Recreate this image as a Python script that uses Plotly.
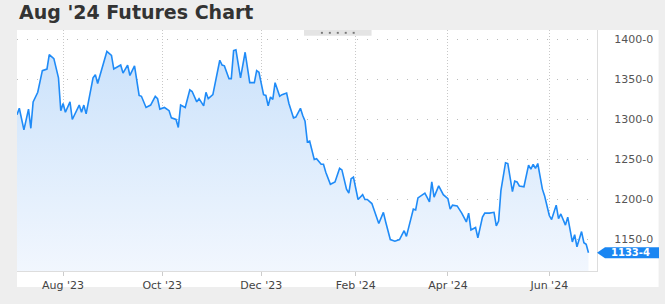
import pandas as pd
import plotly.graph_objects as go

# ---- data ----
# trading-day offset from 2023-07-03 and settlement price (cents/bu)
day_index = [0, 1, 3, 5, 6, 7, 9, 11, 13, 14, 16, 18, 19, 20, 21, 23, 24, 27, 28, 29, 30,
             33, 34, 35, 39, 41, 42, 45, 46, 48, 49, 51, 53, 54, 56, 58, 60, 61, 62, 64,
             66, 67, 69, 70, 71, 73, 75, 76, 78, 79, 81, 82, 83, 85, 88, 89, 90, 92, 93,
             94, 95, 97, 99, 101, 103, 104, 105, 107, 108, 109, 110, 111, 112, 114, 115,
             117, 118, 120, 121, 123, 124, 125, 126, 127, 129, 130, 132, 133, 134, 136,
             138, 140, 141, 143, 144, 145, 146, 148, 150, 151, 152, 154, 157, 159, 160,
             162, 164, 166, 168, 169, 172, 173, 174, 177, 179, 180, 181, 183, 185, 187,
             188, 189, 191, 193, 195, 196, 197, 199, 200, 202, 203, 205, 207, 208, 209,
             210, 212, 213, 215, 216, 217, 218, 220, 222, 223, 224, 225, 226, 227, 228,
             229, 231, 232, 234, 235, 236, 238, 239, 241, 242, 243, 245, 246, 247, 248]
price = [1306, 1314, 1287, 1313, 1289, 1322, 1334, 1361, 1363, 1381, 1376, 1352, 1311, 1320,
         1309, 1322, 1300, 1318, 1309, 1318, 1307, 1352, 1356, 1345, 1385, 1380, 1363, 1368,
         1358, 1368, 1355, 1367, 1330, 1329, 1315, 1318, 1329, 1326, 1313, 1315, 1311, 1302,
         1300, 1290, 1318, 1315, 1337, 1335, 1322, 1326, 1317, 1334, 1326, 1331, 1374, 1368,
         1367, 1351, 1351, 1386, 1387, 1352, 1384, 1346, 1346, 1361, 1359, 1331, 1330, 1317,
         1328, 1325, 1346, 1329, 1331, 1333, 1320, 1302, 1303, 1314, 1305, 1298, 1272, 1273,
         1250, 1251, 1244, 1244, 1234, 1219, 1222, 1239, 1237, 1213, 1208, 1226, 1228, 1200,
         1206, 1200, 1200, 1195, 1170, 1184, 1172, 1150, 1148, 1150, 1161, 1154, 1188, 1187,
         1202, 1208, 1197, 1222, 1203, 1217, 1206, 1201, 1188, 1193, 1192, 1183, 1172, 1183,
         1162, 1165, 1152, 1178, 1183, 1183, 1184, 1167, 1173, 1211, 1246, 1245, 1210, 1223,
         1222, 1217, 1216, 1243, 1238, 1244, 1239, 1245, 1229, 1213, 1204, 1180, 1175, 1193,
         1176, 1182, 1168, 1178, 1147, 1156, 1141, 1160, 1146, 1144, 1133.5]

holidays = ["2023-07-04", "2023-09-04", "2023-11-23", "2023-12-25", "2024-01-01",
            "2024-01-15", "2024-02-19", "2024-03-29", "2024-05-27", "2024-06-19"]

x_tick_dates = ["2023-08-01", "2023-10-02", "2023-12-01", "2024-02-01", "2024-04-01", "2024-06-03"]
x_tick_text = ["Aug '23", "Oct '23", "Dec '23", "Feb '24", "Apr '24", "Jun '24"]
y_tick_vals = [1150, 1200, 1250, 1300, 1350, 1400]
y_tick_text = ["1150-0", "1200-0", "1250-0", "1300-0", "1350-0", "1400-0"]

title_text = "Aug '24 Futures Chart"
last_label = "1133-4"

# ---- trading calendar ----
cal = pd.bdate_range("2023-07-03", "2024-07-05")
cal = cal[~cal.isin(pd.to_datetime(holidays))]
dates = cal[day_index]

LINE = "#1f8bf7"
FONT = "DejaVu Sans"

fig = go.Figure()
fig.add_trace(go.Scatter(
    x=dates, y=price, mode="lines",
    line=dict(color=LINE, width=1.6),
    fill="tozeroy",
    fillgradient=dict(type="vertical",
                      colorscale=[[0, "rgb(244,248,254)"], [1, "rgb(203,226,251)"]],
                      start=1110, stop=1390),
    hoverinfo="skip", showlegend=False,
))

W, H = 665, 304
ml, mr, mt, mb = 17, 64, 30, 19
pw, ph = W - ml - mr, H - mt - mb

def px_x(px):
    return (px - ml) / pw

def px_y(py):
    return (H - mb - py) / ph

shapes = [
    # white chart card
    dict(type="rect", xref="paper", yref="paper", x0=0, x1=px_x(663), y0=px_y(302), y1=1,
         fillcolor="white", line=dict(width=0), layer="below"),
    # drag tab at top
    dict(type="rect", xref="paper", yref="paper", x0=px_x(306), x1=px_x(374), y0=px_y(36), y1=1,
         fillcolor="#e4e4e4", line=dict(width=0), layer="above"),
]
for i in range(5):
    cx = 324 + 8 * i
    shapes.append(dict(type="rect", xref="paper", yref="paper",
                       x0=px_x(cx - 1), x1=px_x(cx + 1), y0=px_y(34), y1=px_y(32),
                       fillcolor="#777777", line=dict(width=0), layer="above"))
# last-price tag
shapes.append(dict(type="path", xref="paper", yref="y", xsizemode="pixel", ysizemode="pixel",
                   xanchor=1, yanchor=price[-1],
                   path="M0,0 L8,5.5 L62,5.5 L62,-5.5 L8,-5.5 Z",
                   fillcolor="#1a86f2", line=dict(width=0), layer="above"))

fig.update_layout(
    width=W, height=H,
    margin=dict(l=ml, r=mr, t=mt, b=mb, pad=0),
    paper_bgcolor="#eeeeee", plot_bgcolor="white",
    font=dict(family=FONT, size=11, color="#555555"),
    shapes=shapes,
    annotations=[
        dict(text=title_text, xref="paper", yref="paper", x=0, y=px_y(11),
             xanchor="left", yanchor="middle", showarrow=False,
             font=dict(family=FONT, size=19, color="#333333", weight="bold")),
        dict(text=last_label, xref="paper", yref="y", x=px_x(635), y=price[-1],
             xanchor="center", yanchor="middle", showarrow=False,
             font=dict(family=FONT, size=10, color="white", weight="bold")),
    ],
    xaxis=dict(
        range=["2023-07-03", "2024-07-02 16:48"],
        rangebreaks=[dict(bounds=["sat", "mon"]), dict(values=holidays)],
        tickvals=x_tick_dates, ticktext=x_tick_text,
        ticks="outside", ticklen=4, tickcolor="#cccccc",
        showgrid=True, gridcolor="#c8c8c8", griddash="1px,2px", gridwidth=1,
        showline=True, linecolor="#dddddd", linewidth=1,
        tickfont=dict(family=FONT, size=11, color="#444444"),
        zeroline=False, fixedrange=True,
    ),
    yaxis=dict(
        side="right", range=[1110.7, 1411.8],
        tickvals=y_tick_vals, ticktext=y_tick_text,
        ticks="", ticklabelstandoff=14,
        showgrid=True, gridcolor="#bbbbbb", griddash="1px,9px", gridwidth=1,
        showline=True, linecolor="#dddddd", linewidth=1, mirror=False,
        tickfont=dict(family=FONT, size=11, color="#555555"),
        zeroline=False, fixedrange=True,
    ),
)

fig.write_html("out.html")
